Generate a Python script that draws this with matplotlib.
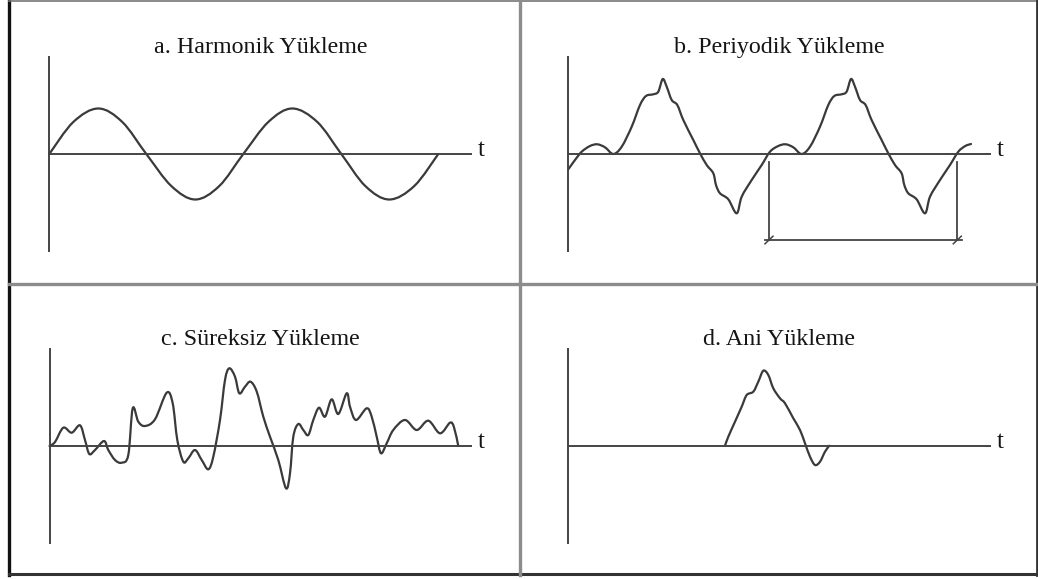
import matplotlib
matplotlib.use('Agg')
import matplotlib.pyplot as plt
from matplotlib.path import Path
from matplotlib.patches import PathPatch
from matplotlib.lines import Line2D

plt.rcParams['font.family'] = ['Liberation Serif', 'DejaVu Serif']

W, H = 1038, 579

# ---------- load histories (t to the right, load up; units = px from origin) ----------
harm_t = [0, 24, 49, 73, 97, 122, 146, 170, 194, 219, 243, 268, 292, 316, 340, 365, 389]
harm_y = [0, 32, 45.5, 32, 0, -32, -45.5, -32, 0, 32, 45.5, 32, 0, -32, -45.5, -32, 0]

# one cycle of the periodic load, starting at the upward zero crossing
PERIOD = 188.3
cycle_t = [0, 8.3, 15.6, 23.3, 31.6, 40, 50, 58.3, 64.3, 71.6, 76.6, 81, 85, 90,
           95.6, 101.6, 111.6, 118.3, 125, 131.6, 134.3, 138.3, 146.6, 155, 160, 170, 180]
cycle_y = [2.6, 8.3, 10, 7, 0.3, 7.6, 27.6, 49.3, 58.3, 60, 62.6, 75.3, 67.6, 54.3,
           49.3, 34.3, 14.3, 1, -10.7, -19, -30.7, -39, -45, -59, -42.4, -25.7, -10.7]
per_lead_t, per_lead_y = [0, 6.7], [-15, -5.7]
per_tail_t, per_tail_y = [390, 397, 402.7], [2.6, 8.3, 10.3]
per_shift = 13.4

irr_t = [0, 5.5, 13.8, 22.2, 30.5, 35.5, 39.8, 45.5, 54.5, 58.8, 65.5, 72.2, 78.8, 83.2,
         88.8, 95.5, 105.5, 117.2, 123.2, 127.8, 133.8, 138.8, 145.5, 152.2, 158.8, 163.8,
         170.5, 175.5, 179.8, 185.5, 189.8, 195.5, 201, 207.2, 213.8, 220.5, 228.8, 236.5,
         240.5, 243.8, 248.8, 253.8, 258.8, 263.8, 269.5, 275.5, 282.2, 288.8, 297.2, 300.5,
         306.5, 317.2, 322.2, 327.2, 331.5, 337.2, 343.8, 355.5, 367.2, 378.8, 390.5, 400.5,
         404.5, 408.8]
irr_y = [0, 4, 18.3, 13.3, 20.7, 6, -8, -4, 5, -4, -14, -16.7, -9, 37.7,
         24.3, 20, 26.7, 53.3, 42.7, 6, -15.7, -12.3, -4, -14, -23.3, -10.7,
         26, 66, 77.7, 69.3, 52.7, 59.3, 64.3, 54.5, 29.3, 9.3, -14, -42.3,
         -27.3, 9.3, 22, 16, 11, 26, 38.3, 29.3, 46.7, 32, 52.7, 39.3,
         26, 37.7, 29.3, 9.3, -7.3, 2.7, 16, 26, 16, 25.3, 12.7, 23.3,
         18.7, 0]

imp_t = [156.7, 160, 166.7, 173.4, 178.4, 185, 190, 195, 200, 205, 211.7, 216.7,
         225, 231.7, 236.7, 241.7, 246.7, 251.7, 256.7, 261]
imp_y = [0, 9, 24, 39, 50.7, 54, 64, 75, 70.7, 57.4, 47.4, 42.4,
         27.4, 15.7, 2.4, -11, -19.3, -16, -6, 0]

titles = ['a. Harmonik Yükleme', 'b. Periyodik Yükleme',
          'c. Süreksiz Yükleme', 'd. Ani Yükleme']

# panel boxes (x0, y0, x1, y1 in px, top-left origin) and axis origin inside each
boxes = [(9, 0, 519, 285), (519, 0, 1036, 285), (9, 285, 519, 575), (519, 285, 1036, 575)]
origins = [(49.3, 154), (568.3, 154.3), (49.5, 446), (568.3, 445.7)]

INK = '#3a3a3a'
TXT = '#151515'


def smooth_path(ts, ys):
    """Catmull-Rom through the points, as cubic Bezier segments."""
    pts = list(zip(ts, ys))
    n = len(pts)
    verts = [pts[0]]
    codes = [Path.MOVETO]
    for i in range(n - 1):
        p0 = pts[max(i - 1, 0)]
        p1 = pts[i]
        p2 = pts[i + 1]
        p3 = pts[min(i + 2, n - 1)]
        c1 = (p1[0] + (p2[0] - p0[0]) / 6, p1[1] + (p2[1] - p0[1]) / 6)
        c2 = (p2[0] - (p3[0] - p1[0]) / 6, p2[1] - (p3[1] - p1[1]) / 6)
        verts += [c1, c2, p2]
        codes += [Path.CURVE4] * 3
    return Path(verts, codes)


def draw_curve(ax, ts, ys):
    ax.add_patch(PathPatch(smooth_path(ts, ys), fill=False, ec=INK, lw=1.6,
                           capstyle='round', joinstyle='round'))


fig = plt.figure(figsize=(W / 100, H / 100), dpi=100)
axes = []
for (x0, y0, x1, y1), (ox, oy), title in zip(boxes, origins, titles):
    ax = fig.add_axes([x0 / W, 1 - y1 / H, (x1 - x0) / W, (y1 - y0) / H])
    ax.set_xlim(x0 - ox, x1 - ox)
    ax.set_ylim(oy - y1, oy - y0)
    ax.axis('off')
    # load axis and time axis
    ax.plot([0, 0], [-97, 97], color='#444444', lw=1.4)
    ax.plot([0, 421.5], [0, 0], color='#444444', lw=1.4)
    ax.text(432, -2, 't', ha='center', va='baseline', fontsize=18, color=TXT)
    ax.text(211, 101, title, ha='center', va='baseline', fontsize=17.3, color=TXT)
    axes.append(ax)

ax_a, ax_b, ax_c, ax_d = axes

# a. harmonic
draw_curve(ax_a, harm_t, harm_y)

# b. periodic: lead-in, two full cycles, short tail
per_t = per_lead_t + [per_shift + t for t in cycle_t] \
    + [per_shift + PERIOD + t for t in cycle_t] + per_tail_t
per_y = per_lead_y + cycle_y + cycle_y + per_tail_y
draw_curve(ax_b, per_t, per_y)

# period dimension line
p_start = per_shift + cycle_t[0] + PERIOD - 1
p_end = p_start + PERIOD
ax_b.plot([p_start, p_start], [-7.4, -85.7], color='#444444', lw=1.3)
ax_b.plot([p_end, p_end], [-7.4, -85.7], color='#444444', lw=1.3)
ax_b.plot([p_start - 4, p_end + 4.5], [-85.7, -85.7], color='#444444', lw=1.3)
for px in (p_start, p_end):
    ax_b.plot([px - 4, px + 4], [-89.5, -81.9], color='#444444', lw=1.1)

# c. irregular
draw_curve(ax_c, irr_t, irr_y)

# d. impulsive
draw_curve(ax_d, imp_t, imp_y)

# outer frame and panel dividers
frame = [
    ((9, 9), (0, 575), '#111111', 2.4),
    ((9, 1036), (0.6, 0.6), '#777777', 1.2),
    ((1036.5, 1036.5), (0, 575), '#333333', 2.0),
    ((9, 1037), (574, 574), '#333333', 2.2),
    ((519.5, 519.5), (0, 575), '#8c8c8c', 2.4),
    ((9, 1036), (284, 284), '#8c8c8c', 2.4),
]
for xs, ys, c, lw in frame:
    fig.add_artist(Line2D([x / W for x in xs], [1 - y / H for y in ys],
                          transform=fig.transFigure, color=c, lw=lw))

fig.savefig('out.png', dpi=100, facecolor='white')
